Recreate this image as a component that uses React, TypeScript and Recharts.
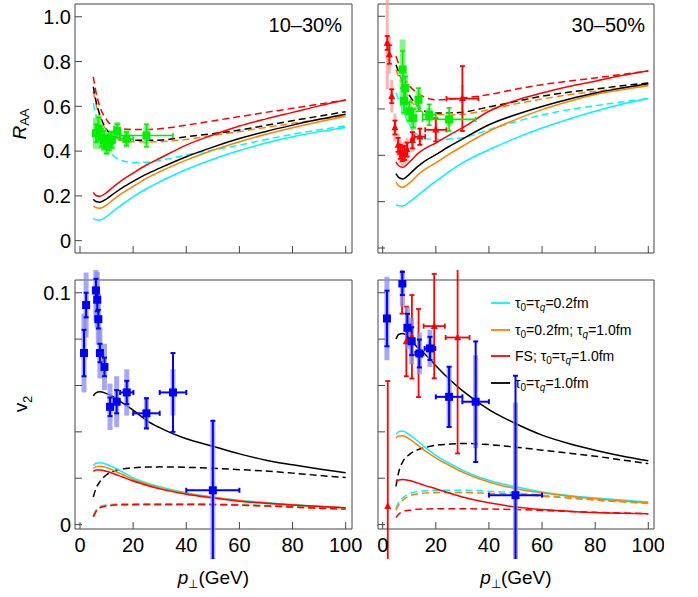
import {
  ComposedChart,
  ErrorBar,
  Line,
  ReferenceArea,
  Scatter,
  XAxis,
  YAxis,
} from 'recharts';

const FONT = '"Liberation Sans", Arial, sans-serif';
const FRAME = '#444';

// transverse momentum grid of the model curves (GeV)
const ptGrid = [5, 6, 7.5, 10, 13, 16, 20, 25, 30, 40, 50, 60, 70, 80, 90, 100];
const xTicks = [0, 20, 40, 60, 80, 100];
const raaTicks = [0, 0.2, 0.4, 0.6, 0.8, 1.0];
const v2Ticks = [0, 0.02, 0.04, 0.06, 0.08, 0.1];

// R_AA, 10-30%
const raaMidCyan = [0.100, 0.093, 0.092, 0.108, 0.137, 0.163, 0.196, 0.232, 0.263, 0.318, 0.364, 0.403, 0.436, 0.464, 0.487, 0.506];
const raaMidOrange = [0.156, 0.147, 0.145, 0.160, 0.188, 0.213, 0.242, 0.278, 0.308, 0.360, 0.404, 0.442, 0.475, 0.504, 0.531, 0.556];
const raaMidRed = [0.216, 0.202, 0.198, 0.215, 0.245, 0.272, 0.302, 0.338, 0.368, 0.427, 0.472, 0.512, 0.544, 0.573, 0.602, 0.628];
const raaMidBlack = [0.185, 0.175, 0.172, 0.187, 0.213, 0.237, 0.265, 0.297, 0.324, 0.375, 0.418, 0.456, 0.488, 0.516, 0.542, 0.565];
const raaMidCyanD = [0.613, 0.560, 0.509, 0.420, 0.375, 0.357, 0.349, 0.350, 0.358, 0.383, 0.405, 0.427, 0.452, 0.475, 0.495, 0.513];
const raaMidOrangeD = [0.665, 0.610, 0.553, 0.490, 0.458, 0.447, 0.442, 0.441, 0.442, 0.452, 0.470, 0.487, 0.506, 0.524, 0.541, 0.558];
const raaMidRedD = [0.732, 0.665, 0.598, 0.540, 0.508, 0.499, 0.497, 0.497, 0.500, 0.516, 0.535, 0.554, 0.573, 0.591, 0.610, 0.628];
const raaMidBlackD = [0.688, 0.625, 0.561, 0.497, 0.466, 0.455, 0.449, 0.448, 0.449, 0.464, 0.478, 0.494, 0.515, 0.536, 0.556, 0.576];

// R_AA, 30-50%
const raaPerCyan = [0.187, 0.182, 0.181, 0.198, 0.225, 0.253, 0.288, 0.330, 0.367, 0.424, 0.474, 0.518, 0.556, 0.590, 0.620, 0.645];
const raaPerOrange = [0.283, 0.268, 0.262, 0.280, 0.313, 0.340, 0.367, 0.405, 0.439, 0.504, 0.554, 0.597, 0.632, 0.662, 0.683, 0.700];
const raaPerRed = [0.372, 0.355, 0.348, 0.370, 0.405, 0.430, 0.453, 0.487, 0.518, 0.590, 0.637, 0.669, 0.697, 0.720, 0.744, 0.765];
const raaPerBlack = [0.321, 0.305, 0.298, 0.318, 0.350, 0.376, 0.403, 0.438, 0.470, 0.532, 0.575, 0.611, 0.642, 0.669, 0.690, 0.709];
const raaPerCyanD = [0.669, 0.640, 0.595, 0.535, 0.488, 0.472, 0.468, 0.470, 0.476, 0.510, 0.545, 0.574, 0.597, 0.614, 0.630, 0.645];
const raaPerOrangeD = [0.770, 0.740, 0.700, 0.645, 0.605, 0.583, 0.576, 0.575, 0.577, 0.597, 0.622, 0.643, 0.661, 0.676, 0.690, 0.702];
const raaPerRedD = [0.827, 0.795, 0.750, 0.700, 0.670, 0.650, 0.640, 0.642, 0.647, 0.662, 0.685, 0.705, 0.720, 0.734, 0.749, 0.763];
const raaPerBlackD = [0.791, 0.760, 0.715, 0.660, 0.615, 0.590, 0.583, 0.583, 0.586, 0.609, 0.632, 0.655, 0.672, 0.686, 0.700, 0.712];

// v2, 10-30%
const v2MidCyan = [0.0256, 0.0265, 0.0267, 0.0260, 0.0245, 0.0227, 0.0201, 0.0180, 0.0163, 0.0137, 0.0119, 0.0105, 0.0095, 0.0086, 0.0079, 0.0073];
const v2MidOrange = [0.0242, 0.0250, 0.0252, 0.0246, 0.0232, 0.0216, 0.0194, 0.0175, 0.0158, 0.0134, 0.0117, 0.0103, 0.0093, 0.0085, 0.0078, 0.0072];
const v2MidRed = [0.0230, 0.0235, 0.0236, 0.0230, 0.0218, 0.0205, 0.0188, 0.0170, 0.0154, 0.0131, 0.0115, 0.0101, 0.0092, 0.0084, 0.0078, 0.0073];
const v2MidBlack = [0.0555, 0.0568, 0.0573, 0.0565, 0.0549, 0.0525, 0.0494, 0.0450, 0.0418, 0.0370, 0.0338, 0.0305, 0.0278, 0.0258, 0.0240, 0.0224];
const v2MidCyanD = [0.0040, 0.0062, 0.0078, 0.0085, 0.0088, 0.0090, 0.0090, 0.0090, 0.0090, 0.0090, 0.0089, 0.0087, 0.0083, 0.0078, 0.0073, 0.0069];
const v2MidOrangeD = [0.0036, 0.0058, 0.0074, 0.0082, 0.0085, 0.0087, 0.0087, 0.0087, 0.0087, 0.0087, 0.0086, 0.0084, 0.0080, 0.0075, 0.0071, 0.0067];
const v2MidRedD = [0.0033, 0.0055, 0.0072, 0.0080, 0.0084, 0.0086, 0.0086, 0.0087, 0.0087, 0.0087, 0.0086, 0.0084, 0.0080, 0.0076, 0.0071, 0.0067];
const v2MidBlackD = [0.0119, 0.0155, 0.0185, 0.0215, 0.0232, 0.0240, 0.0245, 0.0248, 0.0249, 0.0247, 0.0243, 0.0237, 0.0231, 0.0222, 0.0212, 0.0203];

// v2, 30-50%
const v2PerCyan = [0.0390, 0.0401, 0.0404, 0.0388, 0.0362, 0.0333, 0.0299, 0.0265, 0.0235, 0.0191, 0.0163, 0.0141, 0.0126, 0.0115, 0.0106, 0.0098];
const v2PerOrange = [0.0374, 0.0382, 0.0383, 0.0370, 0.0344, 0.0318, 0.0288, 0.0256, 0.0227, 0.0184, 0.0155, 0.0137, 0.0122, 0.0112, 0.0102, 0.0094];
const v2PerRed = [0.0185, 0.0192, 0.0195, 0.0190, 0.0180, 0.0168, 0.0155, 0.0136, 0.0119, 0.0094, 0.0076, 0.0065, 0.0058, 0.0052, 0.0049, 0.0047];
const v2PerBlack = [0.0800, 0.0820, 0.0824, 0.0805, 0.0765, 0.0735, 0.0685, 0.0628, 0.0578, 0.0496, 0.0436, 0.0386, 0.0350, 0.0321, 0.0296, 0.0275];
const v2PerCyanD = [0.0069, 0.0095, 0.0115, 0.0133, 0.0142, 0.0146, 0.0148, 0.0148, 0.0148, 0.0144, 0.0137, 0.0127, 0.0117, 0.0108, 0.0100, 0.0094];
const v2PerOrangeD = [0.0062, 0.0085, 0.0105, 0.0123, 0.0132, 0.0136, 0.0138, 0.0138, 0.0138, 0.0135, 0.0131, 0.0123, 0.0114, 0.0106, 0.0098, 0.0091];
const v2PerRedD = [0.0030, 0.0045, 0.0056, 0.0062, 0.0066, 0.0067, 0.0068, 0.0068, 0.0068, 0.0067, 0.0065, 0.0061, 0.0057, 0.0053, 0.0050, 0.0047];
const v2PerBlackD = [0.0165, 0.0225, 0.0270, 0.0302, 0.0322, 0.0333, 0.0342, 0.0347, 0.0350, 0.0345, 0.0334, 0.0321, 0.0308, 0.0295, 0.0279, 0.0263];

// green squares, R_AA 10-30%
const gMidPt = [6, 7, 8, 9, 10, 11, 12, 14, 17.5, 25];
const gMidRaa = [0.48, 0.50, 0.46, 0.45, 0.43, 0.44, 0.45, 0.49, 0.455, 0.47];
const gMidStat = [0.04, 0.05, 0.04, 0.04, 0.04, 0.035, 0.035, 0.03, 0.03, 0.05];
const gMidSys = [0.07, 0.06, 0.05, 0.05, 0.05, 0.045, 0.045, 0.04, 0.04, 0.04];
const gMidXerr = [0, 0, 0, 0, 0, 0, 0, 0, 2.5, 10];

// green squares, R_AA 30-50%
const gPerPt = [7.5, 8, 8.5, 10, 11.5, 13.5, 17.5, 25];
const gPerRaa = [0.77, 0.635, 0.69, 0.59, 0.56, 0.64, 0.575, 0.555];
const gPerStat = [0.08, 0.05, 0.05, 0.04, 0.04, 0.05, 0.045, 0.05];
const gPerSys = [0.13, 0.06, 0.06, 0.05, 0.05, 0.04, 0.03, 0.03];
const gPerXerr = [0, 0, 0, 0, 0, 0, 2.5, 10];

// red triangles, R_AA 30-50%
const rPerPt = [1.7, 2.5, 3.4, 4.6, 5.8, 6.6, 7.4, 8.2, 9.2, 11.2, 14, 20, 30];
const rPerRaa = [0.885, 0.835, 0.655, 0.52, 0.445, 0.415, 0.405, 0.41, 0.425, 0.465, 0.48, 0.51, 0.645];
const rPerStat = [0.03, 0.04, 0.03, 0.03, 0.03, 0.03, 0.03, 0.03, 0.03, 0.035, 0.035, 0.05, 0.14];
const rPerSys = [0.2, 0.08, 0.07, 0.06, 0.05, 0.05, 0.05, 0.05, 0.05, 0.05, 0.04, 0.04, 0.06];
const rPerXerr = [0, 0, 0, 0, 0, 0, 0, 0, 0, 0.5, 2, 4, 6];

// blue squares, v2 10-30%
const bMidPt = [1.5, 2.3, 6.0, 6.5, 6.9, 7.5, 9.2, 11.3, 13.8, 17.6, 25, 35, 50];
const bMidV2 = [0.074, 0.0947, 0.101, 0.097, 0.0886, 0.074, 0.068, 0.0508, 0.053, 0.057, 0.048, 0.057, 0.0148];
const bMidStat = [0.010, 0.0053, 0.005, 0.005, 0.004, 0.004, 0.004, 0.004, 0.005, 0.005, 0.0065, 0.017, 0.030];
const bMidSys = [0.017, 0.014, 0.013, 0.012, 0.011, 0.011, 0.01, 0.01, 0.011, 0.01, 0.007, 0.01, 0.03];
const bMidXerr = [0, 0, 0, 0, 0, 0, 0, 0, 1, 2.5, 5, 5, 10];

// blue squares, v2 30-50%
const bPerPt = [1.6, 7.4, 9.3, 10.9, 13.8, 17.8, 25, 35, 50];
const bPerV2 = [0.0889, 0.104, 0.0849, 0.0791, 0.0738, 0.076, 0.0551, 0.053, 0.0127];
const bPerStat = [0.012, 0.005, 0.006, 0.006, 0.006, 0.005, 0.013, 0.026, 0.0515];
const bPerSys = [0.018, 0.01, 0.009, 0.01, 0.009, 0.008, 0.013, 0.02, 0.04];
const bPerXerr = [0, 0, 0, 1, 1.5, 2, 5, 5, 10];

// red triangles, v2 30-50%
const rV2Pt = [1.9, 7.3, 8.9, 11, 13.5, 19.4, 28.2];
const rV2Val = [0.0079, 0.104, 0.079, 0.081, 0.074, 0.0856, 0.0807];
const rV2Stat = [0.054, 0.013, 0.015, 0.018, 0.019, 0.0225, 0.05];
const rV2Xerr = [0, 0, 0, 0, 0, 4, 4.5];

const CYAN = '#00f5ff';
const ORANGE = '#ff8000';
const RED = '#ff0000';
const BLACK = '#000000';

const curveStyles = [
  { key: 'cyanD', color: CYAN, dashed: true },
  { key: 'orangeD', color: ORANGE, dashed: true },
  { key: 'redD', color: RED, dashed: true },
  { key: 'blackD', color: BLACK, dashed: true },
  { key: 'cyan', color: CYAN, dashed: false },
  { key: 'orange', color: ORANGE, dashed: false },
  { key: 'red', color: RED, dashed: false },
  { key: 'black', color: BLACK, dashed: false },
];

const buildRows = (cols: Record<string, number[]>) =>
  ptGrid.map((pt, i) => {
    const row: Record<string, number> = { pt };
    Object.keys(cols).forEach((k) => (row[k] = cols[k][i]));
    return row;
  });

const buildPoints = (pt: number[], val: number[], stat: number[], sys: number[] | null, xerr: number[]) =>
  pt.map((p, i) => ({ pt: p, val: val[i], stat: stat[i], sys: sys ? sys[i] : 0, xerr: xerr[i] }));

const rowsMidRaa = buildRows({
  cyan: raaMidCyan, orange: raaMidOrange, red: raaMidRed, black: raaMidBlack,
  cyanD: raaMidCyanD, orangeD: raaMidOrangeD, redD: raaMidRedD, blackD: raaMidBlackD,
});
const rowsPerRaa = buildRows({
  cyan: raaPerCyan, orange: raaPerOrange, red: raaPerRed, black: raaPerBlack,
  cyanD: raaPerCyanD, orangeD: raaPerOrangeD, redD: raaPerRedD, blackD: raaPerBlackD,
});
const rowsMidV2 = buildRows({
  cyan: v2MidCyan, orange: v2MidOrange, red: v2MidRed, black: v2MidBlack,
  cyanD: v2MidCyanD, orangeD: v2MidOrangeD, redD: v2MidRedD, blackD: v2MidBlackD,
});
const rowsPerV2 = buildRows({
  cyan: v2PerCyan, orange: v2PerOrange, red: v2PerRed, black: v2PerBlack,
  cyanD: v2PerCyanD, orangeD: v2PerOrangeD, redD: v2PerRedD, blackD: v2PerBlackD,
});

type PointSet = {
  name: string;
  data: { pt: number; val: number; stat: number; sys: number; xerr: number }[];
  color: string;
  sysColor?: string;
  sysWidth?: number;
  marker: 'square' | 'triangle';
  markerSize: number;
  barWidth: number;
};

const greenMid: PointSet = {
  name: 'gMid', data: buildPoints(gMidPt, gMidRaa, gMidStat, gMidSys, gMidXerr),
  color: '#00ee00', sysColor: '#66ee66', sysWidth: 6, marker: 'square', markerSize: 8, barWidth: 1.6,
};
const greenPer: PointSet = {
  name: 'gPer', data: buildPoints(gPerPt, gPerRaa, gPerStat, gPerSys, gPerXerr),
  color: '#00ee00', sysColor: '#66ee66', sysWidth: 6, marker: 'square', markerSize: 8, barWidth: 1.6,
};
const redPerRaa: PointSet = {
  name: 'rPer', data: buildPoints(rPerPt, rPerRaa, rPerStat, rPerSys, rPerXerr),
  color: '#ff0000', sysColor: '#ff9a9a', sysWidth: 3, marker: 'triangle', markerSize: 7, barWidth: 1.8,
};
const blueMid: PointSet = {
  name: 'bMid', data: buildPoints(bMidPt, bMidV2, bMidStat, bMidSys, bMidXerr),
  color: '#0000ff', sysColor: '#8a8af0', sysWidth: 5, marker: 'square', markerSize: 8, barWidth: 2,
};
const bluePer: PointSet = {
  name: 'bPer', data: buildPoints(bPerPt, bPerV2, bPerStat, bPerSys, bPerXerr),
  color: '#0000ff', sysColor: '#8a8af0', sysWidth: 5, marker: 'square', markerSize: 8, barWidth: 2,
};
const redPerV2: PointSet = {
  name: 'rV2', data: buildPoints(rV2Pt, rV2Val, rV2Stat, null, rV2Xerr),
  color: '#ff0000', marker: 'triangle', markerSize: 7, barWidth: 1.8,
};

const markerShape = (set: PointSet) => (props: any) => {
  const { cx, cy } = props;
  if (cx == null || cy == null) return <g />;
  const s = set.markerSize;
  if (set.marker === 'square') {
    return <rect x={cx - s / 2} y={cy - s / 2} width={s} height={s} fill={set.color} />;
  }
  return (
    <polygon
      points={`${cx},${cy - s * 0.6} ${cx - s / 2},${cy + s * 0.4} ${cx + s / 2},${cy + s * 0.4}`}
      fill={set.color}
    />
  );
};

const fmt = (v: number) => (v === 0 ? '0' : v === 1 ? '1.0' : String(v));

type PanelProps = {
  left: number;
  top: number;
  w: number;
  h: number;
  xDomain: [number, number];
  yDomain: [number, number];
  yTicks: number[];
  yLabels: number[];
  xLabels: boolean;
  rows: Record<string, number>[];
  sets: PointSet[];
};

const Panel = ({ left, top, w, h, xDomain, yDomain, yTicks, yLabels, xLabels, rows, sets }: PanelProps) => {
  const xTick = (p: any) => (
    <g>
      <line x1={p.x} y1={p.y} x2={p.x} y2={p.y - 7} stroke={FRAME} strokeWidth={1} />
      {xLabels && (
        <text x={p.x} y={p.y + 23} textAnchor="middle" fontSize={20} fontFamily={FONT} fill="#000">
          {fmt(p.payload.value)}
        </text>
      )}
    </g>
  );
  const yTick = (p: any) => (
    <g>
      <line x1={p.x} y1={p.y} x2={p.x + 7} y2={p.y} stroke={FRAME} strokeWidth={1} />
      {yLabels.some((v) => Math.abs(v - p.payload.value) < 1e-9) && (
        <text x={p.x - 4} y={p.y} dy="0.36em" textAnchor="end" fontSize={20} fontFamily={FONT} fill="#000">
          {fmt(p.payload.value)}
        </text>
      )}
    </g>
  );
  return (
    <div style={{ position: 'absolute', left: left - 60, top: top - 10 }}>
      <ComposedChart width={w + 70} height={h + 40} data={rows} margin={{ top: 10, right: 10, bottom: 0, left: 0 }}>
        <XAxis
          dataKey="pt"
          type="number"
          domain={xDomain}
          allowDataOverflow
          ticks={xTicks}
          interval={0}
          height={30}
          tickSize={0}
          tickMargin={0}
          axisLine={false}
          tickLine={false}
          tick={xTick}
        />
        <YAxis
          dataKey="val"
          type="number"
          domain={yDomain}
          allowDataOverflow
          ticks={yTicks}
          interval={0}
          width={60}
          tickSize={0}
          tickMargin={0}
          axisLine={false}
          tickLine={false}
          tick={yTick}
        />
        {curveStyles.map((c) => (
          <Line
            key={c.key}
            type="monotone"
            dataKey={c.key}
            stroke={c.color}
            strokeWidth={1.5}
            strokeDasharray={c.dashed ? '7 4' : undefined}
            dot={false}
            isAnimationActive={false}
          />
        ))}
        {sets.map((s) => (
          <Scatter key={s.name} data={s.data} shape={markerShape(s)} isAnimationActive={false}>
            {s.sysColor && (
              <ErrorBar
                dataKey="sys"
                direction="y"
                width={0}
                stroke={s.sysColor}
                strokeWidth={s.sysWidth}
                strokeOpacity={0.75}
                isAnimationActive={false}
              />
            )}
            <ErrorBar dataKey="xerr" direction="x" width={2.5} stroke={s.color} strokeWidth={s.barWidth} isAnimationActive={false} />
            <ErrorBar dataKey="stat" direction="y" width={2.5} stroke={s.color} strokeWidth={s.barWidth} isAnimationActive={false} />
          </Scatter>
        ))}
        <ReferenceArea
          x1={xDomain[0]}
          x2={xDomain[1]}
          y1={yDomain[0]}
          y2={yDomain[1]}
          fill="none"
          stroke={FRAME}
          strokeWidth={1}
          ifOverflow="visible"
        />
      </ComposedChart>
    </div>
  );
};

const legendRows = [
  { color: CYAN, y: 303, parts: ['τ', '0', '=τ', 'q', '=0.2fm'] },
  { color: ORANGE, y: 330, parts: ['τ', '0', '=0.2fm; τ', 'q', '=1.0fm'] },
  { color: RED, y: 356, parts: ['FS; τ', '0', '=τ', 'q', '=1.0fm'] },
  { color: BLACK, y: 383, parts: ['τ', '0', '=τ', 'q', '=1.0fm'] },
];

const Overlay = () => (
  <svg width={698} height={597} style={{ position: 'absolute', left: 0, top: 0, pointerEvents: 'none' }} fontFamily={FONT}>
    <text x={342} y={31.5} textAnchor="end" fontSize={20}>10–30%</text>
    <text x={645} y={31.5} textAnchor="end" fontSize={20}>30–50%</text>
    <text transform="translate(26,124) rotate(-90)" textAnchor="middle" fontSize={19}>
      <tspan fontStyle="italic">R</tspan>
      <tspan fontSize={13} dy={3}>AA</tspan>
    </text>
    <text transform="translate(27,404) rotate(-90)" textAnchor="middle" fontSize={19}>
      <tspan>v</tspan>
      <tspan fontSize={13} dy={5}>2</tspan>
    </text>
    {[213.5, 516].map((cx) => (
      <text key={cx} x={cx} y={584} textAnchor="middle" fontSize={19}>
        <tspan fontStyle="italic">p</tspan>
        <tspan fontSize={12} dy={4}>⊥</tspan>
        <tspan dy={-4}>(GeV)</tspan>
      </text>
    ))}
    {legendRows.map((r) => (
      <g key={r.y}>
        <line x1={491} x2={510} y1={r.y} y2={r.y} stroke={r.color} strokeWidth={1.8} />
        <text x={515} y={r.y + 5} fontSize={14}>
          <tspan>{r.parts[0]}</tspan>
          <tspan fontSize={10} dy={3}>{r.parts[1]}</tspan>
          <tspan dy={-3}>{r.parts[2]}</tspan>
          <tspan fontSize={10} dy={3} fontStyle="italic">{r.parts[3]}</tspan>
          <tspan dy={-3}>{r.parts[4]}</tspan>
        </text>
      </g>
    ))}
  </svg>
);

export default function App() {
  return (
    <div style={{ position: 'absolute', left: 0, top: 0, width: 698, height: 597, background: '#fff', fontFamily: FONT }}>
      <Panel
        left={75} top={4} w={277} h={249}
        xDomain={[-1.88, 102.37]} yDomain={[-0.055, 1.057]}
        yTicks={raaTicks} yLabels={raaTicks} xLabels={false}
        rows={rowsMidRaa} sets={[greenMid]}
      />
      <Panel
        left={378} top={4} w={276} h={249}
        xDomain={[-1.77, 102.15]} yDomain={[-0.0216, 1.053]}
        yTicks={raaTicks} yLabels={[]} xLabels={false}
        rows={rowsPerRaa} sets={[redPerRaa, greenPer]}
      />
      <Panel
        left={75} top={280} w={277} h={249}
        xDomain={[-1.88, 102.37]} yDomain={[-0.0019, 0.1055]}
        yTicks={v2Ticks} yLabels={[0, 0.1]} xLabels
        rows={rowsMidV2} sets={[blueMid]}
      />
      <Panel
        left={378} top={280} w={276} h={249}
        xDomain={[-1.77, 102.15]} yDomain={[-0.0019, 0.1055]}
        yTicks={v2Ticks} yLabels={[]} xLabels
        rows={rowsPerV2} sets={[redPerV2, bluePer]}
      />
      <Overlay />
    </div>
  );
}
